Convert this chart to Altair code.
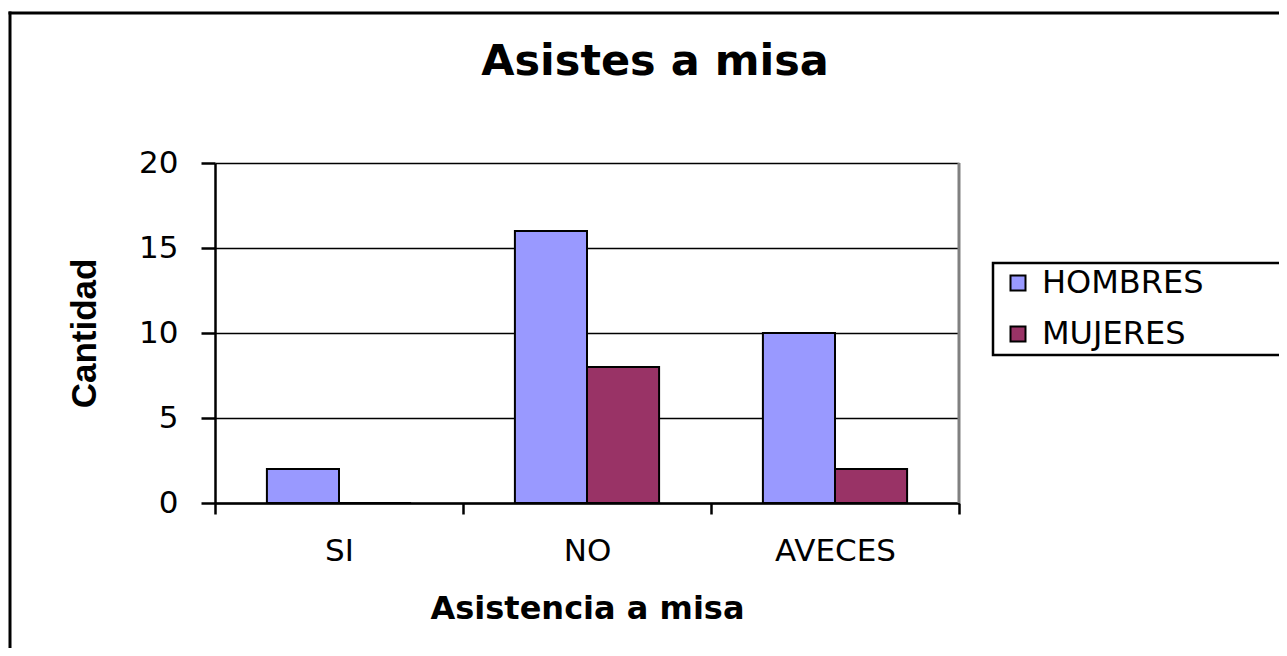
import altair as alt
import pandas as pd

categorias = ["SI", "NO", "AVECES"]
hombres = [2, 16, 10]
mujeres = [0, 8, 2]
series = ["HOMBRES", "MUJERES"]
colores = ["#9999FF", "#993366"]

rows = []
for c, h, m in zip(categorias, hombres, mujeres):
    rows.append({"Categoria": c, "Sexo": "HOMBRES", "Cantidad": h})
    rows.append({"Categoria": c, "Sexo": "MUJERES", "Cantidad": m})
df = pd.DataFrame(rows)

FONT = "DejaVu Sans"

bars = alt.Chart(df).mark_bar(stroke="black", strokeWidth=2).encode(
    x=alt.X("Categoria:N", sort=categorias,
            scale=alt.Scale(paddingInner=0, paddingOuter=0),
            axis=alt.Axis(title="Asistencia a misa", labelAngle=0,
                          labelFontSize=31, labelFont=FONT, labelColor="black",
                          labelBaseline="top", labelPadding=22,
                          tickBand="extent", tickSize=11, tickWidth=2.5, tickColor="black",
                          domainColor="black", domainWidth=2.5,
                          titleFont=FONT, titleFontSize=32, titleFontWeight="bold",
                          titleColor="black", titleBaseline="alphabetic",
                          titleX=372, titleY=115, titleAnchor="middle", titleAlign="center",
                          grid=False)),
    xOffset=alt.XOffset("Sexo:N", sort=series,
                        scale=alt.Scale(paddingInner=0, paddingOuter=0.72)),
    y=alt.Y("Cantidad:Q", scale=alt.Scale(domain=[0, 20], nice=False),
            axis=alt.Axis(title="Cantidad", values=[0, 5, 10, 15, 20],
                          labelFontSize=31, labelFont=FONT, labelColor="black",
                          labelPadding=23, tickSize=14, tickWidth=2.5, tickColor="black",
                          domainColor="black", domainWidth=2.5,
                          grid=True, gridColor="black", gridWidth=1.5,
                          titleFont="Liberation Sans",
                          titleFontSize=35, titleFontWeight="bold", titleColor="black",
                          titleAngle=270, titleBaseline="middle", titleAlign="center",
                          titleX=-131, titleY=170)),
    color=alt.Color("Sexo:N", sort=series,
                    scale=alt.Scale(domain=series, range=colores),
                    legend=alt.Legend(title=None, orient="none", legendX=787, legendY=104,
                                      symbolType="square", symbolSize=225,
                                      symbolStrokeColor="black", symbolStrokeWidth=2,
                                      labelFont=FONT, labelFontSize=32, labelColor="black",
                                      labelLimit=400,
                                      labelOffset=8, rowPadding=19, padding=0)),
)

one = alt.Data(values=[{"k": 1}])

box = alt.Chart(one).mark_rect(
    fill="white", stroke="black", strokeWidth=2.5
).encode(x=alt.value(778), x2=alt.value(1069), y=alt.value(100), y2=alt.value(192))

right_edge = alt.Chart(one).mark_rule(color="#808080", strokeWidth=3).encode(
    x=alt.value(744), y=alt.value(0), y2=alt.value(340))

frame_v = alt.Chart(one).mark_rule(
    color="black", strokeWidth=3
).encode(x=alt.value(-205), y=alt.value(-151.5), y2=alt.value(700))

frame_h = alt.Chart(one).mark_rule(
    color="black", strokeWidth=3
).encode(x=alt.value(-206.5), x2=alt.value(1200), y=alt.value(-150))

chart = alt.layer(frame_v, frame_h, box, right_edge, bars).properties(
    width=744, height=340,
    autosize=alt.AutoSizeParams(type="none"),
    padding={"left": 207, "top": 155, "right": 320, "bottom": 145},
    title=alt.TitleParams("Asistes a misa", font=FONT, fontSize=43, fontWeight="bold",
                          color="black", anchor="middle", dx=68, offset=-108,
                          baseline="alphabetic"),
).configure_view(fill="#C0C0C0", stroke="#808080", strokeWidth=3
).configure(background="white")

chart.save("out.html", embed_options={"renderer": "svg", "actions": False})
